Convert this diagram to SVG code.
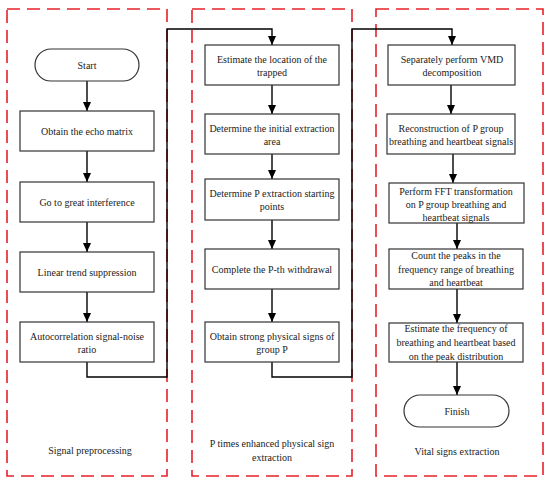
<svg xmlns="http://www.w3.org/2000/svg" width="550" height="486" viewBox="0 0 550 486">
<defs>
<marker id="arr" markerUnits="userSpaceOnUse" markerWidth="10" markerHeight="10" viewBox="0 0 10 10" refX="9" refY="5" orient="auto">
<path d="M0,1 L9,5 L0,9 Z" fill="#000"/>
</marker>
<style>
.panel{fill:none;stroke:#e8202a;stroke-width:1.6;stroke-dasharray:13 7}
.box{fill:#fff;stroke:#333;stroke-width:1.2}
.c{fill:none;stroke:#000;stroke-width:1.4}
.a{marker-end:url(#arr)}
text{font-size:10px;fill:#222;text-anchor:middle}
</style>
</defs>
<rect width="550" height="486" fill="#fff"/>
<g id="panels">
<rect class="panel" x="7" y="9" width="160" height="467"/>
<rect class="panel" x="192" y="9" width="160" height="467"/>
<rect class="panel" x="376" y="9" width="167" height="467"/>
</g>
<g id="connectors">
<line class="c a" x1="87" y1="81" x2="87" y2="111"/>
<line class="c a" x1="87" y1="151" x2="87" y2="182"/>
<line class="c a" x1="87" y1="222" x2="87" y2="252"/>
<line class="c a" x1="87" y1="292" x2="87" y2="322"/>
<path class="c a" d="M87,362 V377 H167 V29 H272 V45"/>
<line class="c a" x1="272" y1="85" x2="272" y2="114"/>
<line class="c a" x1="272" y1="154" x2="272" y2="179"/>
<line class="c a" x1="272" y1="220" x2="272" y2="249"/>
<line class="c a" x1="272" y1="289" x2="272" y2="322"/>
<path class="c a" d="M272,362 V377 H352 V29 H452 V45"/>
<line class="c a" x1="451" y1="85" x2="451" y2="114"/>
<line class="c a" x1="453" y1="154" x2="453" y2="183"/>
<line class="c a" x1="457" y1="223" x2="457" y2="249"/>
<line class="c a" x1="457" y1="289" x2="457" y2="323"/>
<line class="c a" x1="457" y1="362" x2="457" y2="395"/>
</g>
<g id="nodes" font-family="'Liberation Serif', 'Times New Roman', Times, serif">
<g id="start"><rect class="box" x="35" y="49" width="104" height="32" rx="16"/><text x="87" y="69">Start</text></g>
<g id="echo"><rect class="box" x="20" y="111" width="134" height="40"/><text x="87" y="135">Obtain the echo matrix</text></g>
<g id="interference"><rect class="box" x="20" y="182" width="134" height="40"/><text x="87" y="206">Go to great interference</text></g>
<g id="trend"><rect class="box" x="20" y="252" width="134" height="40"/><text x="87" y="276">Linear trend suppression</text></g>
<g id="autocorr"><rect class="box" x="20" y="322" width="134" height="40"/><text x="87" y="340">Autocorrelation signal-noise</text><text x="87" y="353">ratio</text></g>
<g id="label1"><text x="90" y="454">Signal preprocessing</text></g>

<g id="locate"><rect class="box" x="205" y="45" width="134" height="40"/><text x="272" y="63">Estimate the location of the</text><text x="272" y="76">trapped</text></g>
<g id="area"><rect class="box" x="205" y="114" width="134" height="40"/><text x="272" y="132">Determine the initial extraction</text><text x="272" y="145">area</text></g>
<g id="points"><rect class="box" x="205" y="179" width="134" height="41"/><text x="272" y="197">Determine P extraction starting</text><text x="272" y="210">points</text></g>
<g id="withdrawal"><rect class="box" x="205" y="249" width="134" height="40"/><text x="272" y="273">Complete the P-th withdrawal</text></g>
<g id="strong"><rect class="box" x="205" y="322" width="134" height="40"/><text x="272" y="340">Obtain strong physical signs of</text><text x="272" y="353">group P</text></g>
<g id="label2"><text x="272" y="447">P times enhanced physical sign</text><text x="272" y="461">extraction</text></g>

<g id="vmd"><rect class="box" x="388" y="45" width="127" height="40"/><text x="452" y="63">Separately perform VMD</text><text x="452" y="76">decomposition</text></g>
<g id="recon"><rect class="box" x="387" y="114" width="128" height="40"/><text x="451" y="132">Reconstruction of P group</text><text x="451" y="145">breathing and heartbeat signals</text></g>
<g id="fft"><rect class="box" x="389" y="183" width="135" height="40"/><text x="456" y="195">Perform FFT transformation</text><text x="456" y="208">on P group breathing and</text><text x="456" y="221">heartbeat signals</text></g>
<g id="peaks"><rect class="box" x="389" y="249" width="134" height="40"/><text x="456" y="259">Count the peaks in the</text><text x="456" y="273">frequency range of breathing</text><text x="456" y="286">and heartbeat</text></g>
<g id="estfreq"><rect class="box" x="389" y="323" width="134" height="39"/><text x="456" y="332">Estimate the frequency of</text><text x="456" y="346">breathing and heartbeat based</text><text x="456" y="360">on the peak distribution</text></g>
<g id="finish"><rect class="box" x="404" y="395" width="105" height="32" rx="16"/><text x="457" y="415">Finish</text></g>
<g id="label3"><text x="457" y="455">Vital signs extraction</text></g>
</g>
</svg>
